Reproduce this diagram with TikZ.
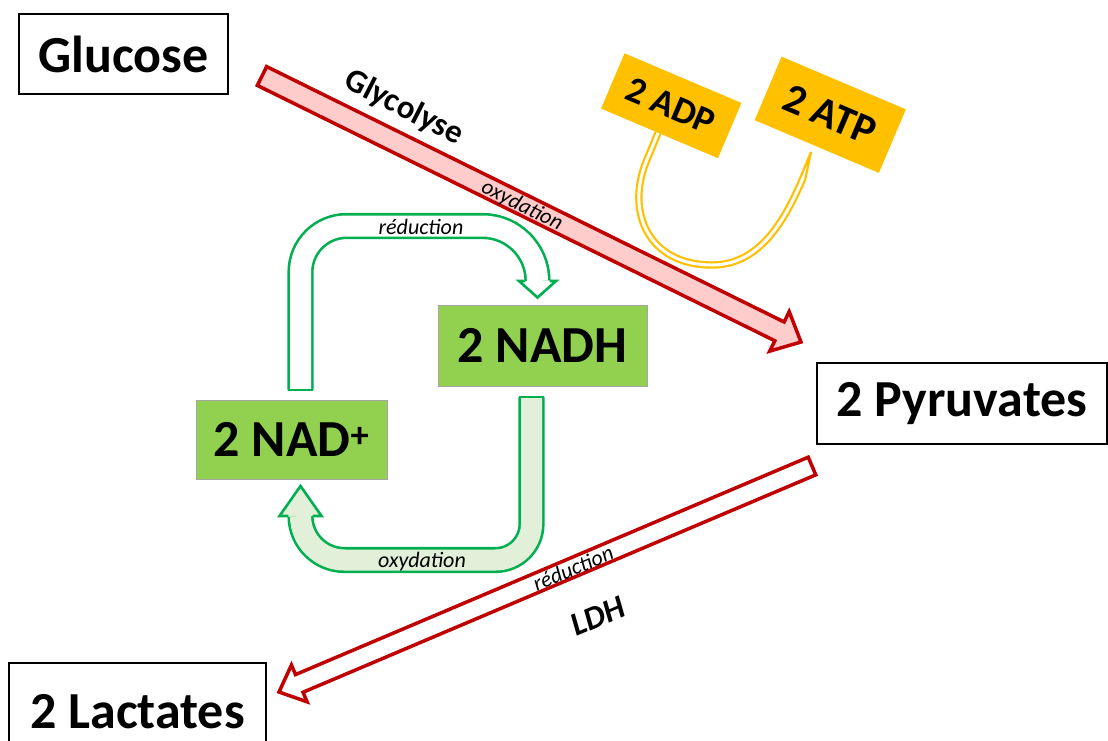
\documentclass[tikz,border=0pt]{standalone}
\usepackage{fontspec}
\setmainfont{Carlito}
\usetikzlibrary{calc}
\definecolor{dred}{HTML}{C00000}
\definecolor{lpink}{HTML}{FFCCCC}
\definecolor{nadgreen}{HTML}{92D050}
\definecolor{arrgreen}{HTML}{00B050}
\definecolor{lgreen}{HTML}{E2F0D9}
\definecolor{gold}{HTML}{FFC000}
\newcommand\blockarrow[6]{%
  \coordinate (#2-#3-n) at ($(#3)!#6!(#2)$);
  \draw[#1] ($(#2)!#4!90:(#3)$) -- ($(#2-#3-n)!#4!90:(#3)$) -- ($(#2-#3-n)!#5!90:(#3)$) -- (#3)
     -- ($(#2-#3-n)!#5!-90:(#3)$) -- ($(#2-#3-n)!#4!-90:(#3)$) -- ($(#2)!#4!-90:(#3)$) -- cycle;}
\begin{document}
\begin{tikzpicture}[x=1pt,y=-1pt,
  big/.style={font=\fontsize{52}{60}\selectfont\bfseries, inner sep=0pt},
  whitebox/.style={big, draw=black, line width=1.5pt, fill=white},
  greenbox/.style={big, draw=black!35, line width=0.8pt, fill=nadgreen},
  goldbox/.style={draw=none, fill=gold, inner sep=0pt, rotate=-23},
  redarrow/.style={draw=dred, line width=3.5pt, line join=miter, miter limit=10},
  gshaft/.style={draw=arrgreen, line width=2.6pt, double distance=21pt, double=#1},
  gline/.style={draw=arrgreen, line width=2.6pt, line join=miter, miter limit=10},
  small/.style={font=\fontsize{22}{26}\selectfont\itshape, inner sep=0pt},
  mid/.style={font=\fontsize{33}{40}\selectfont\bfseries, inner sep=0pt}]
\useasboundingbox (0,0) rectangle (1108,740);
\clip (0,0) rectangle (1108,740);
\fill[white] (0,0) rectangle (1108,740);

% main boxes
\node[whitebox, minimum width=209pt, minimum height=80pt] (glu) at (123.5,54) {Glucose};
\node[whitebox, minimum width=290pt, minimum height=81pt] (pyr) at (962,403.5) {2 Pyruvates};
\node[whitebox, minimum width=257pt, minimum height=97pt] (lac) at (137.5,711.5) {2 Lactates};
\node[greenbox, minimum width=209pt, minimum height=81pt] (nadh) at (542.5,345.5) {2 NADH};
\node[greenbox, minimum width=191pt, minimum height=79pt] (nad) at (291.5,439.5) {2 NAD\textsuperscript{+}};

% red block arrows
\coordinate (g1) at (262,76);
\coordinate (g2) at (801,342);
\coordinate (l1) at (812,466);
\coordinate (l2) at (279,692);
\blockarrow{redarrow, fill=lpink}{g1}{g2}{10.5pt}{22pt}{24pt}
\blockarrow{redarrow, fill=white}{l1}{l2}{9.6pt}{20pt}{22pt}

\node[mid, rotate=-27] (glyc) at (404,108) {Glycolyse};
\node[small, rotate=-26.3] (ox1) at (522,206) {oxydation};
\node[small, rotate=23] (red1) at (573,568) {réduction};
\node[mid, rotate=23, font=\fontsize{33}{40}\selectfont\bfseries\itshape] (ldh) at (598,616) {LDH};

% yellow U arrow
\coordinate (u0) at (658,133);
\coordinate (u1) at (803,178);
\coordinate (ut) at (811,152);
\draw[gold, line width=2.2pt, double=white, double distance=3pt]
  (u0) -- (646,162) .. controls (626,212) and (648,265) .. (712,265)
  .. controls (760,265) and (785,220) .. (u1);
\fill[white] (800.7,176.9) -- (ut) -- (805.3,179.1) -- cycle;
\draw[gold, line width=2.2pt, line join=miter] (800.7,176.9) -- (ut) -- (805.3,179.1);

\node[goldbox, minimum width=127pt, minimum height=60pt, font=\fontsize{37}{40}\selectfont\bfseries] (adp) at (671.25,105.75) {2 ADP};
\node[goldbox, minimum width=135pt, minimum height=69pt, font=\fontsize{42}{46}\selectfont\bfseries] (atp) at (830.25,114.75) {2 ATP};

% green cycle: top (reduction) arrow, white
\draw[gshaft=white] (300.5,390) -- (300.5,272) arc[start angle=180,end angle=270,radius=46]
  -- (482.5,226) arc[start angle=270,end angle=360,radius=55] -- (537.5,281);
\draw[gline, line cap=square] (288.45,390) -- (312.55,390);
\fill[white] (525.45,281) -- (519,281) -- (537.5,297.5) -- (556,281) -- (549.55,281) -- cycle;
\draw[gline] (525.45,281) -- (519,281) -- (537.5,297.5) -- (556,281) -- (549.55,281);

% green cycle: bottom (oxydation) arrow, light green
\draw[gshaft=lgreen] (531.5,397) -- (531.5,524) arc[start angle=0,end angle=90,radius=36]
  -- (344.5,560) arc[start angle=90,end angle=180,radius=44] -- (300.5,516);
\draw[gline, line cap=square] (519.45,397) -- (543.55,397);
\fill[lgreen] (288.45,516) -- (279.5,516) -- (300.5,486) -- (321.5,516) -- (312.55,516) -- cycle;
\draw[gline] (288.45,516) -- (279.5,516) -- (300.5,486) -- (321.5,516) -- (312.55,516);

\node[small] (red2) at (421,227) {réduction};
\node[small] (ox2) at (422,562) {oxydation};
\end{tikzpicture}
\end{document}
